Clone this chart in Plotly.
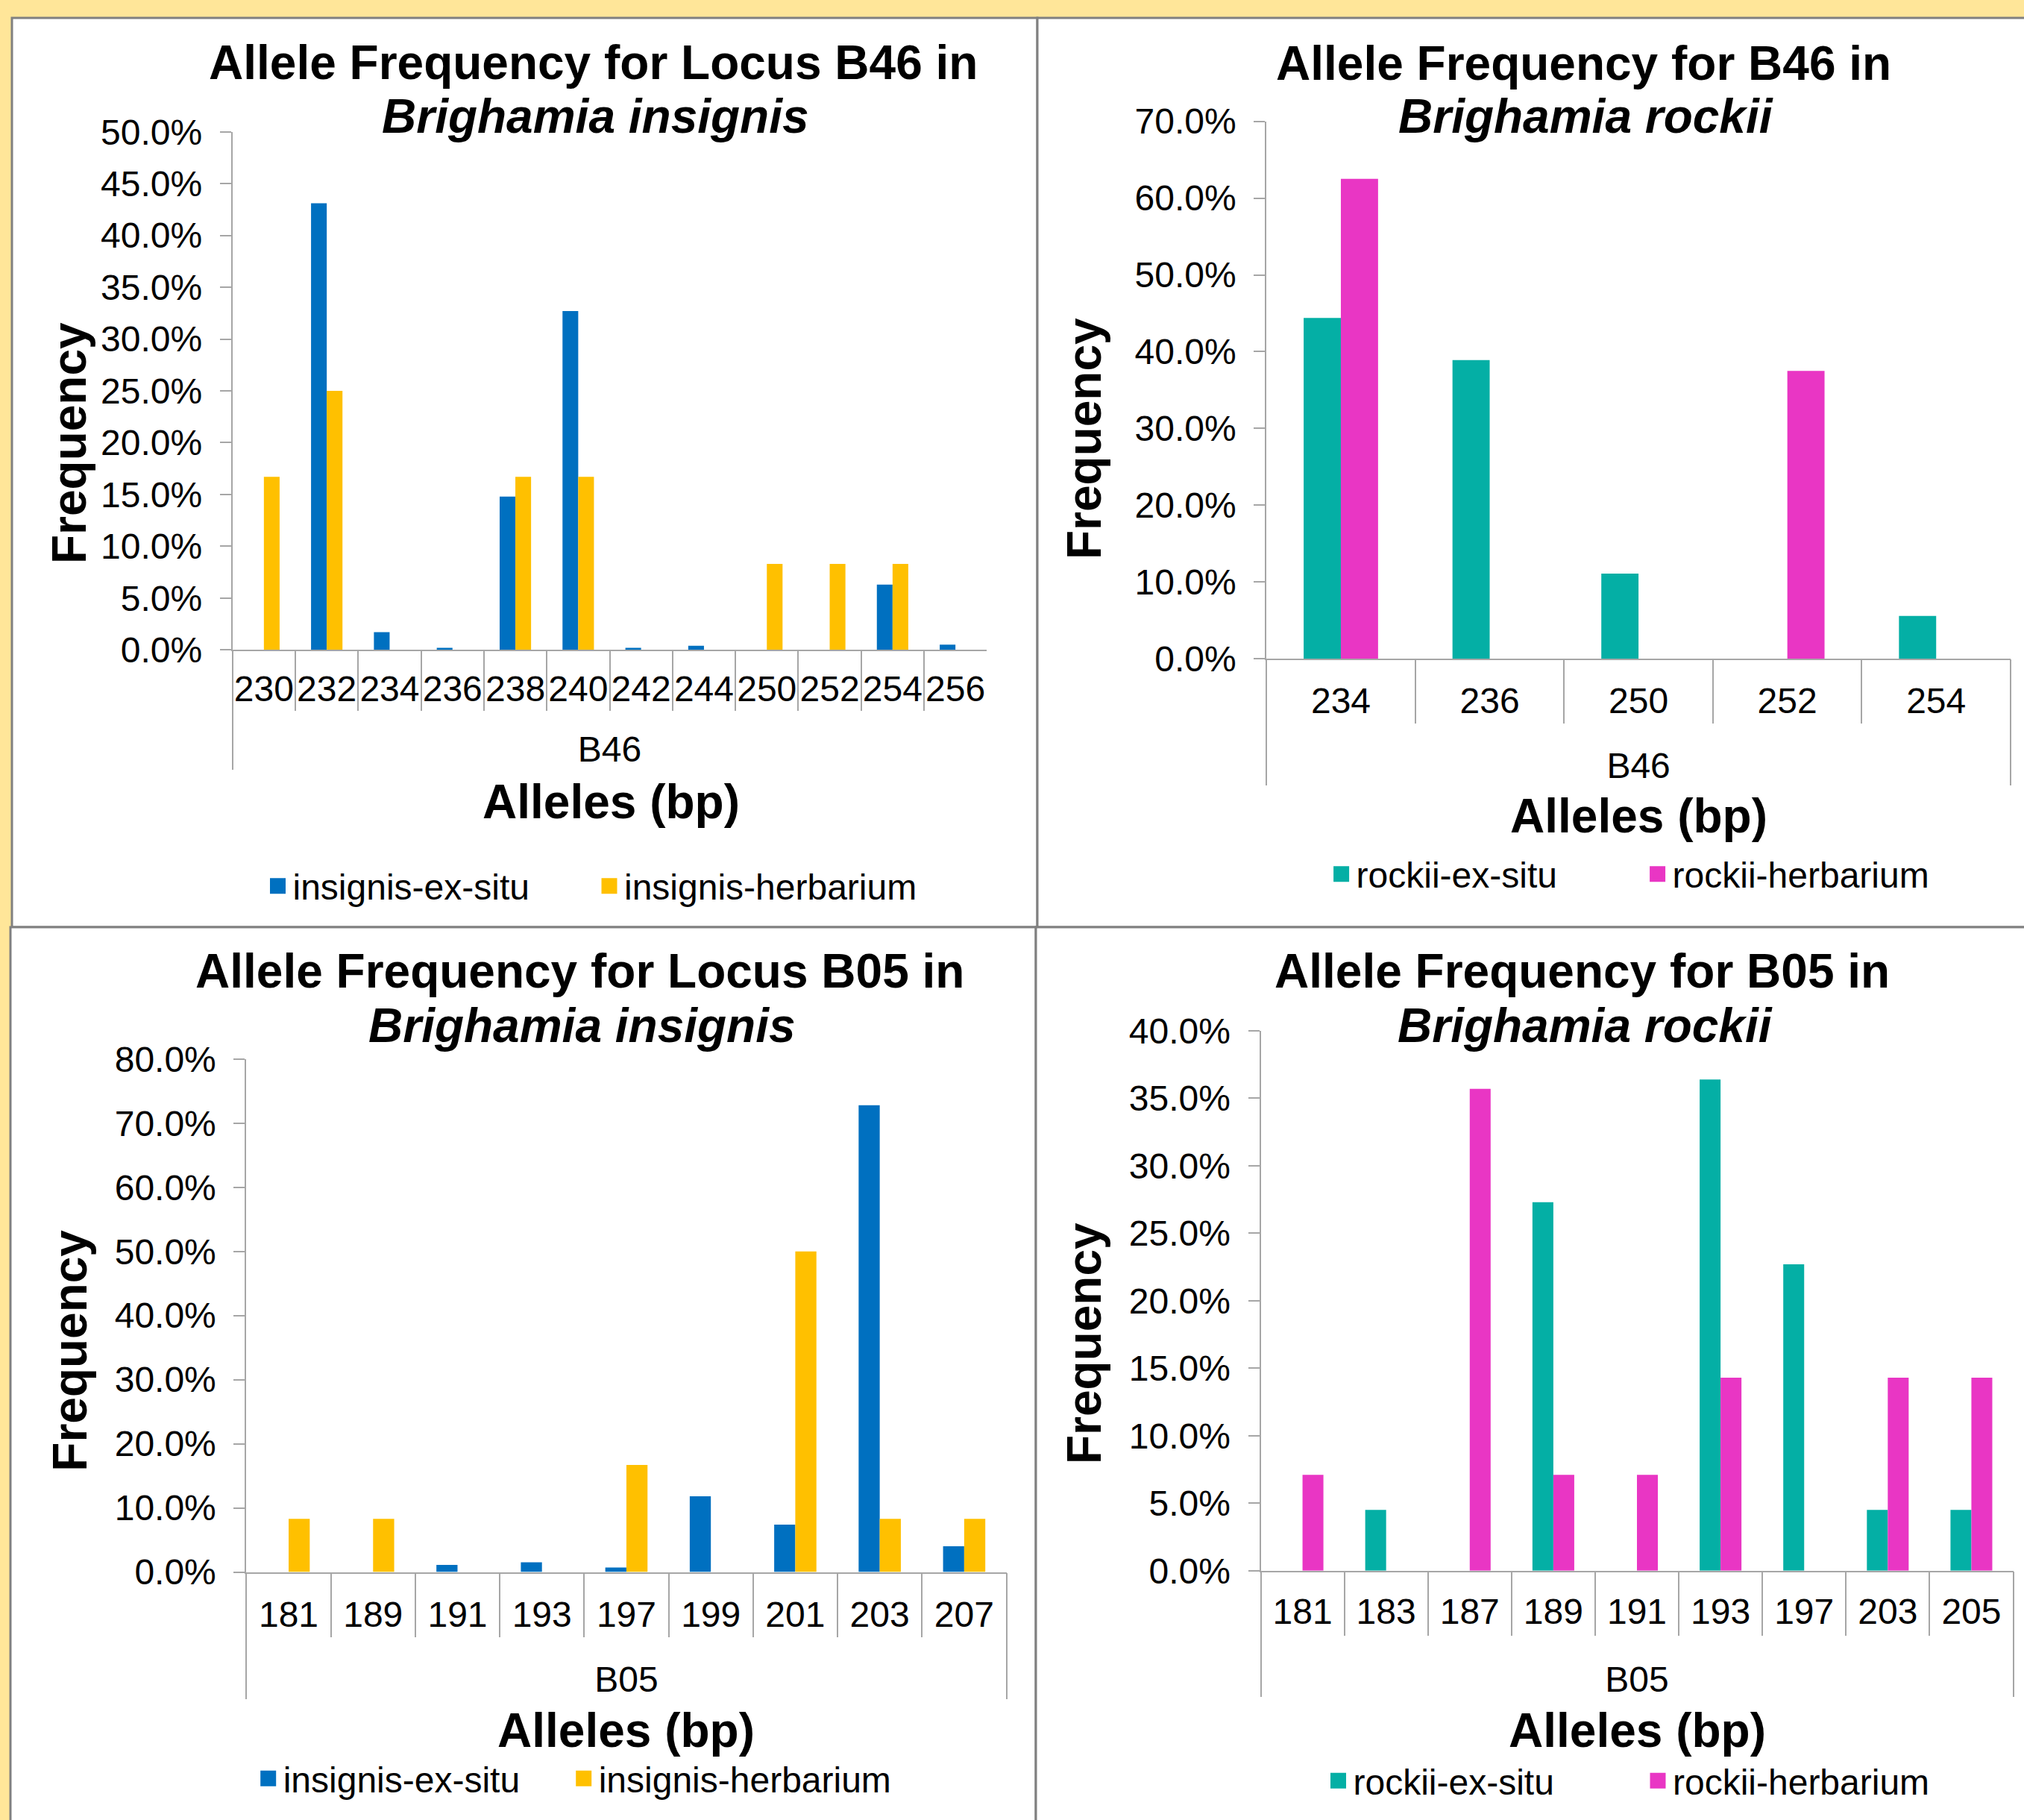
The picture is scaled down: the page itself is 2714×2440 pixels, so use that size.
import plotly.graph_objects as go

W, H = 2714, 2440
FONT = "Liberation Sans, Arial, sans-serif"

# ---- data: allele frequencies (%) --------------------------------------
# Locus B46, Brighamia insignis
b46_insignis_alleles = ["230", "232", "234", "236", "238", "240", "242", "244", "250", "252", "254", "256"]
b46_insignis_ex_situ = [0.0, 43.1, 1.7, 0.2, 14.8, 32.7, 0.2, 0.4, 0.0, 0.0, 6.3, 0.5]
b46_insignis_herbarium = [16.7, 25.0, 0.0, 0.0, 16.7, 16.7, 0.0, 0.0, 8.3, 8.3, 8.3, 0.0]

# Locus B46, Brighamia rockii
b46_rockii_alleles = ["234", "236", "250", "252", "254"]
b46_rockii_ex_situ = [44.4, 38.9, 11.1, 0.0, 5.6]
b46_rockii_herbarium = [62.5, 0.0, 0.0, 37.5, 0.0]

# Locus B05, Brighamia insignis
b05_insignis_alleles = ["181", "189", "191", "193", "197", "199", "201", "203", "207"]
b05_insignis_ex_situ = [0.0, 0.0, 1.1, 1.5, 0.7, 11.8, 7.4, 72.8, 4.0]
b05_insignis_herbarium = [8.3, 8.3, 0.0, 0.0, 16.7, 0.0, 50.0, 8.3, 8.3]

# Locus B05, Brighamia rockii
b05_rockii_alleles = ["181", "183", "187", "189", "191", "193", "197", "203", "205"]
b05_rockii_ex_situ = [0.0, 4.5, 0.0, 27.3, 0.0, 36.4, 22.7, 4.5, 4.5]
b05_rockii_herbarium = [7.1, 0.0, 35.7, 7.1, 7.1, 14.3, 0.0, 14.3, 14.3]

series_names_insignis = ["insignis-ex-situ", "insignis-herbarium"]
series_names_rockii = ["rockii-ex-situ", "rockii-herbarium"]

# ---- styling ------------------------------------------------------------
BLUE, GOLD = "#0070C0", "#FFC000"
TEAL, MAGENTA = "#04AFA5", "#E936C4"
AXIS = "#A6A6A6"
BORDER = "#808080"
BACK = "#FFE699"
TICK_SIZE = 48
TITLE_SIZE = 64


def fx(x):
    return x / W


def fy(y):
    return 1 - y / H


panels = [
    dict(locus="B46", t1="Allele Frequency for Locus B46 in", t2="Brighamia insignis",
         cats=b46_insignis_alleles, vals=(b46_insignis_ex_situ, b46_insignis_herbarium),
         names=series_names_insignis, colors=(BLUE, GOLD), ymax=50, dtick=5,
         box=(16, 24, 1391, 1243), plot=(311.7, 176.7, 1323.3, 871.2),
         ticklen=80, grouplen=160, catoff=9, groupoff=101,
         t1xy=(795, 84), t2xy=(798, 156.3),
         xtxy=(819, 1074.5), ytxy=(93, 594), leg=(372.5, 1188), entry=399.5),
    dict(locus="B46", t1="Allele Frequency for B46 in", t2="Brighamia rockii",
         cats=b46_rockii_alleles, vals=(b46_rockii_ex_situ, b46_rockii_herbarium),
         names=series_names_rockii, colors=(TEAL, MAGENTA), ymax=70, dtick=10,
         box=(1391, 24, W + 10, 1243), plot=(1698.2, 162.6, 2696, 883.3),
         ticklen=85, grouplen=169, catoff=13, groupoff=111,
         t1xy=(2123, 85), t2xy=(2126.6, 156.3),
         xtxy=(2197, 1094), ytxy=(1454, 588), leg=(1798.6, 1172), entry=379),
    dict(locus="B05", t1="Allele Frequency for Locus B05 in", t2="Brighamia insignis",
         cats=b05_insignis_alleles, vals=(b05_insignis_ex_situ, b05_insignis_herbarium),
         names=series_names_insignis, colors=(BLUE, GOLD), ymax=80, dtick=10,
         box=(14, 1243, 1389, H + 10), plot=(330.4, 1419.8, 1349.5, 2107.5),
         ticklen=85, grouplen=169, catoff=14, groupoff=111,
         t1xy=(777, 1302), t2xy=(780, 1374.8),
         xtxy=(839, 2320), ytxy=(94, 1810.7), leg=(359.7, 2384.5), entry=378),
    dict(locus="B05", t1="Allele Frequency for B05 in", t2="Brighamia rockii",
         cats=b05_rockii_alleles, vals=(b05_rockii_ex_situ, b05_rockii_herbarium),
         names=series_names_rockii, colors=(TEAL, MAGENTA), ymax=40, dtick=5,
         box=(1389, 1243, W + 10, H + 10), plot=(1690.5, 1382, 2699.5, 2105.8),
         ticklen=85, grouplen=168, catoff=12, groupoff=113,
         t1xy=(2121, 1302), t2xy=(2125, 1374.8),
         xtxy=(2195, 2320), ytxy=(1454, 1801), leg=(1794.5, 2387.5), entry=383.5),
]

fig = go.Figure()
layout = dict(
    width=W, height=H, autosize=False,
    margin=dict(l=0, r=0, t=0, b=0, pad=0, autoexpand=False),
    paper_bgcolor=BACK, plot_bgcolor="rgba(0,0,0,0)",
    barmode="group", bargap=0.5, bargroupgap=0,
    font=dict(family=FONT, size=TICK_SIZE, color="black"),
    shapes=[], annotations=[],
)

tickfont = dict(family=FONT, size=TICK_SIZE, color="black")

for i, p in enumerate(panels, start=1):
    sfx = "" if i == 1 else str(i)
    xid, yid = "x" + sfx, "y" + sfx
    gid = "x" + str(i + 4)
    lid = "legend" + sfx
    x0, y0, x1, y1 = p["plot"]
    n = len(p["cats"])

    # white panel with a grey frame
    bx0, by0, bx1, by1 = p["box"]
    layout["shapes"].append(dict(
        type="rect", xref="paper", yref="paper", layer="below",
        x0=fx(bx0), x1=fx(bx1), y0=fy(by1), y1=fy(by0),
        fillcolor="white", line=dict(color=BORDER, width=3)))

    # allele categories with separators between them
    layout["xaxis" + sfx] = dict(
        type="category", domain=[fx(x0), fx(x1)], anchor=yid,
        categoryorder="array", categoryarray=p["cats"], range=[-0.5, n - 0.5],
        showline=True, linecolor=AXIS, linewidth=2,
        ticks="outside", tickson="boundaries", ticklen=p["ticklen"],
        tickwidth=2, tickcolor=AXIS, tickfont=tickfont, tickangle=0,
        ticklabelstandoff=p["catoff"], automargin=False,
        showgrid=False, zeroline=False, fixedrange=True)

    # locus name spanning all alleles
    layout["xaxis" + str(i + 4)] = dict(
        type="category", overlaying=xid, anchor=yid, side="bottom",
        categoryorder="array", categoryarray=[p["locus"]], range=[-0.5, 0.5],
        showline=False, ticks="outside", tickson="boundaries",
        ticklen=p["grouplen"], tickwidth=2, tickcolor=AXIS,
        tickfont=tickfont, tickangle=0, ticklabelstandoff=p["groupoff"],
        automargin=False, showgrid=False, zeroline=False, fixedrange=True)

    layout["yaxis" + sfx] = dict(
        domain=[fy(y1), fy(y0)], anchor=xid,
        range=[0, p["ymax"]], tick0=0, dtick=p["dtick"],
        tickformat=".1f", ticksuffix="%",
        showline=True, linecolor=AXIS, linewidth=2,
        ticks="outside", ticklen=15, tickwidth=2, tickcolor=AXIS,
        tickfont=tickfont, ticklabelstandoff=14, automargin=False,
        showgrid=False, zeroline=False, fixedrange=True)

    lx, ly = p["leg"]
    layout[lid] = dict(
        orientation="h", x=fx(lx - 20), xanchor="left", y=fy(ly), yanchor="middle",
        font=dict(family=FONT, size=TICK_SIZE, color="black"),
        bgcolor="rgba(0,0,0,0)", entrywidthmode="pixels",
        itemsizing="trace", traceorder="normal")

    for vals, name, color in zip(p["vals"], p["names"], p["colors"]):
        fig.add_trace(go.Bar(
            x=p["cats"], y=vals, name=name, marker=dict(color=color, line=dict(width=0)),
            xaxis=xid, yaxis=yid, showlegend=False, hoverinfo="skip"))
    # square legend keys, placed on the locus axis (no visible point)
    for k, (name, color) in enumerate(zip(p["names"], p["colors"])):
        fig.add_trace(go.Scatter(
            x=[p["locus"]], y=[None], mode="markers", name=name,
            marker=dict(symbol="square", size=16, color=color, line=dict(width=5, color=color)),
            xaxis=gid, yaxis=yid, legend=lid, showlegend=True, hoverinfo="skip",
            legendwidth=p["entry"] if k == 0 else 470))

    def note(text, xy, size=TITLE_SIZE, angle=0):
        layout["annotations"].append(dict(
            text=text, x=fx(xy[0]), y=fy(xy[1]), xref="paper", yref="paper",
            xanchor="center", yanchor="middle", showarrow=False, textangle=angle,
            font=dict(family=FONT, size=size, color="black")))

    note("<b>" + p["t1"] + "</b>", p["t1xy"])
    note("<b><i>" + p["t2"] + "</i></b>", p["t2xy"])
    note("<b>Alleles (bp)</b>", p["xtxy"])
    note("<b>Frequency</b>", p["ytxy"], angle=-90)

fig.update_layout(**layout)
fig.write_html("out.html")
